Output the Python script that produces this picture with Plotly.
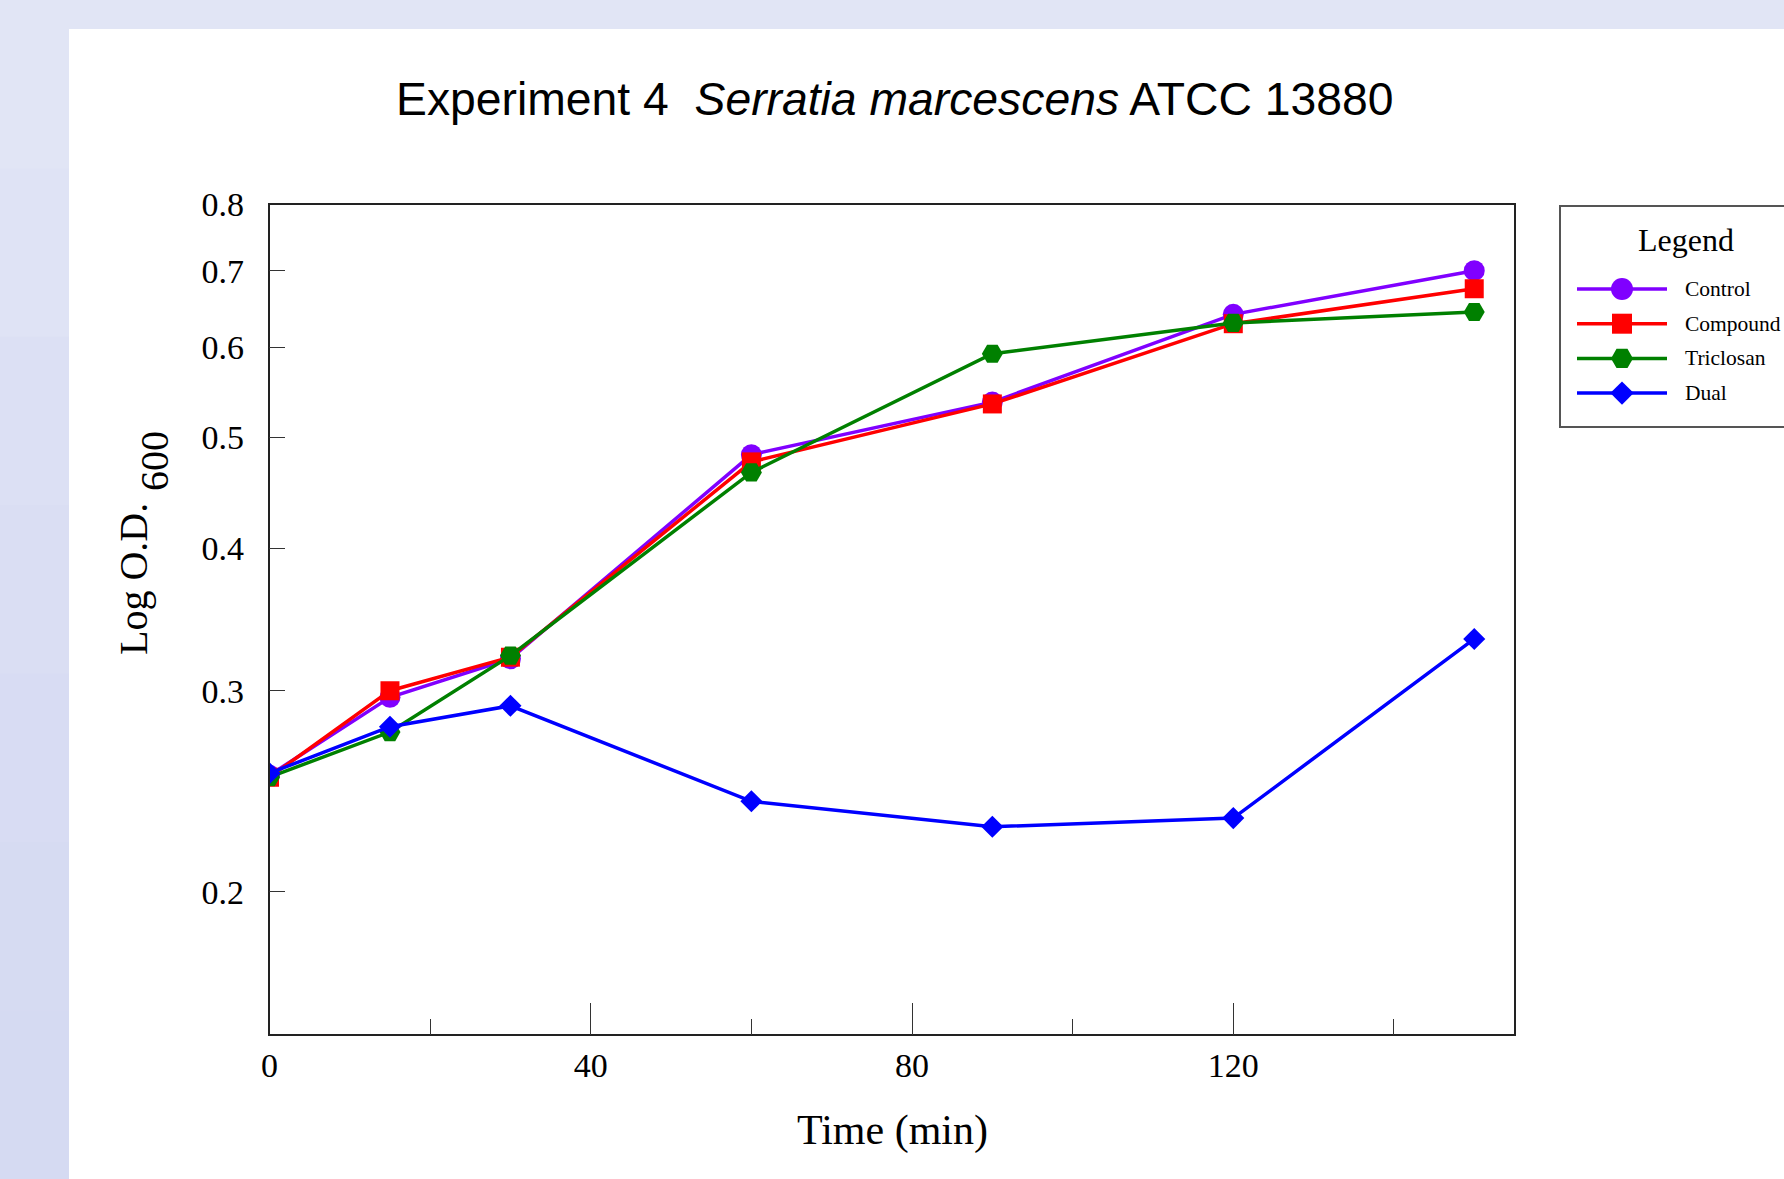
import math
import plotly.graph_objects as go

W, H = 1784, 1179

# ---------------- data ----------------
time_min = [0, 15, 30, 60, 90, 120, 150]
control = [0.253, 0.296, 0.320, 0.483, 0.537, 0.641, 0.700]
compound = [0.252, 0.300, 0.321, 0.476, 0.535, 0.629, 0.675]
triclosan = [0.252, 0.276, 0.322, 0.466, 0.592, 0.630, 0.644]
dual = [0.254, 0.279, 0.291, 0.240, 0.228, 0.232, 0.333]

series_names = ["Control", "Compound", "Triclosan", "Dual"]
series_values = [control, compound, triclosan, dual]
series_colors = ["#8000FF", "#FF0000", "#008000", "#0000FF"]
series_symbols = ["circle", "square", "hexagon2", "diamond"]
series_sizes = [21, 19, 21, 17]

x_tick_values = [0, 40, 80, 120]
x_tick_labels = ["0", "40", "80", "120"]
y_tick_values = [0.2, 0.3, 0.4, 0.5, 0.6, 0.7, 0.8]
y_tick_labels = ["0.2", "0.3", "0.4", "0.5", "0.6", "0.7", "0.8"]

# ---------------- layout helpers (pixels -> paper) ----------------
def px(x):
    return x / W

def py(y):
    return 1 - y / H

PLOT_L, PLOT_R, PLOT_T, PLOT_B = 269.5, 1514.4, 204.5, 1034.3
LEG_L, LEG_T, LEG_B = 1560, 206, 427
LEG_W, LEG_H = W - LEG_L, LEG_B - LEG_T

SERIF = "Liberation Serif, Times New Roman, serif"
SANS = "Liberation Sans, Arial, sans-serif"

fig = go.Figure()

for name, vals, col, sym, sz in zip(series_names, series_values, series_colors,
                                    series_symbols, series_sizes):
    fig.add_trace(go.Scatter(
        x=time_min, y=vals, name=name, mode="lines+markers",
        line=dict(color=col, width=3.5),
        marker=dict(symbol=sym, size=sz, color=col, line=dict(width=0)),
        showlegend=False, xaxis="x", yaxis="y",
    ))

# ---------------- manual legend (on helper axes) ----------------
row0, row_step = 83, 34.7
annotations = []
for i, (name, col, sym, sz) in enumerate(zip(series_names, series_colors,
                                             series_symbols, series_sizes)):
    row = row0 + row_step * i
    fig.add_trace(go.Scatter(
        x=[17, 107], y=[row, row], mode="lines",
        line=dict(color=col, width=3.5), showlegend=False,
        hoverinfo="skip", xaxis="x2", yaxis="y2",
    ))
    fig.add_trace(go.Scatter(
        x=[62], y=[row], mode="markers",
        marker=dict(symbol=sym, size=sz + 1, color=col, line=dict(width=0)),
        showlegend=False, hoverinfo="skip", xaxis="x2", yaxis="y2",
    ))
    annotations.append(dict(
        x=123, y=row, xref="x2", yref="y2", text=name, showarrow=False,
        xanchor="left", yanchor="middle", font=dict(family=SERIF, size=21.5, color="black"),
    ))
annotations.append(dict(
    x=126, y=34, xref="x2", yref="y2", text="Legend", showarrow=False,
    xanchor="center", yanchor="middle", font=dict(family=SERIF, size=32, color="black"),
))

# titles
annotations.append(dict(
    x=px(394), y=py(99), xref="paper", yref="paper",
    text="Experiment 4\u00a0 <i>Serratia marcescens</i> ATCC 13880",
    showarrow=False, xanchor="left", yanchor="middle",
    font=dict(family=SANS, size=46.3, color="black"),
))
annotations.append(dict(
    x=px(892), y=py(1130), xref="paper", yref="paper", text="Time (min)",
    showarrow=False, xanchor="center", yanchor="middle",
    font=dict(family=SERIF, size=42, color="black"),
))
annotations.append(dict(
    x=px(133), y=py(579), xref="paper", yref="paper", text="Log O.D.",
    showarrow=False, xanchor="center", yanchor="middle", textangle=-90,
    font=dict(family=SERIF, size=40, color="black"),
))
annotations.append(dict(
    x=px(154), y=py(461), xref="paper", yref="paper", text="600",
    showarrow=False, xanchor="center", yanchor="middle", textangle=-90,
    font=dict(family=SERIF, size=40, color="black"),
))

# ---------------- background shapes ----------------
shapes = []
band_colors = ["#E1E5F5", "#DFE3F5", "#DCE0F4", "#DADEF3", "#D8DCF3", "#D6DBF2", "#D5DAF2"]
nb = len(band_colors)
for i, c in enumerate(band_colors):
    shapes.append(dict(type="rect", xref="paper", yref="paper",
                       x0=0, x1=px(69), y0=1 - (i + 1) / nb - 0.001, y1=1 - i / nb,
                       fillcolor=c, line=dict(width=0), layer="below"))
shapes.append(dict(type="rect", xref="paper", yref="paper",
                   x0=px(69), x1=1.01, y0=-0.01, y1=py(29),
                   fillcolor="white", line=dict(width=0), layer="below"))
shapes.append(dict(type="rect", xref="paper", yref="paper",
                   x0=px(LEG_L), x1=1.02, y0=py(LEG_B), y1=py(LEG_T),
                   fillcolor="rgba(0,0,0,0)", line=dict(color="#555555", width=2), layer="above"))

axis_common = dict(
    showline=True, mirror=True, linecolor="#222222", linewidth=1.5,
    showgrid=False, zeroline=False, ticks="inside", tickcolor="#333333",
    tickwidth=1, tickfont=dict(family=SERIF, size=34, color="black"),
)

fig.update_layout(
    width=W, height=H,
    margin=dict(l=0, r=0, t=0, b=0, autoexpand=False),
    paper_bgcolor="#E1E5F5",
    plot_bgcolor="white",
    showlegend=False,
    xaxis=dict(
        domain=[px(PLOT_L), px(PLOT_R)], range=[0, 155],
        tickvals=x_tick_values, ticktext=x_tick_labels, ticklen=32,
        ticklabelstandoff=0,
        minor=dict(ticks="inside", ticklen=16, tick0=0, dtick=20,
                   tickcolor="#333333", tickwidth=1, showgrid=False),
        anchor="y", **axis_common,
    ),
    yaxis=dict(
        type="log", domain=[py(PLOT_B), py(PLOT_T)],
        range=[math.log10(0.15), math.log10(0.8)],
        tickvals=y_tick_values, ticktext=y_tick_labels, ticklen=16,
        ticklabelstandoff=17,
        anchor="x", **axis_common,
    ),
    xaxis2=dict(domain=[px(LEG_L), 1], range=[0, LEG_W], visible=False,
                anchor="y2", fixedrange=True),
    yaxis2=dict(domain=[py(LEG_B), py(LEG_T)], range=[LEG_H, 0], visible=False,
                anchor="x2", fixedrange=True),
    annotations=annotations,
    shapes=shapes,
)

fig.write_html(
    "out.html",
    config={"displayModeBar": False},
    post_script="document.documentElement.style.margin='0';"
                "document.body.style.margin='0';document.body.style.padding='0';"
                "document.body.style.overflow='hidden';",
)
